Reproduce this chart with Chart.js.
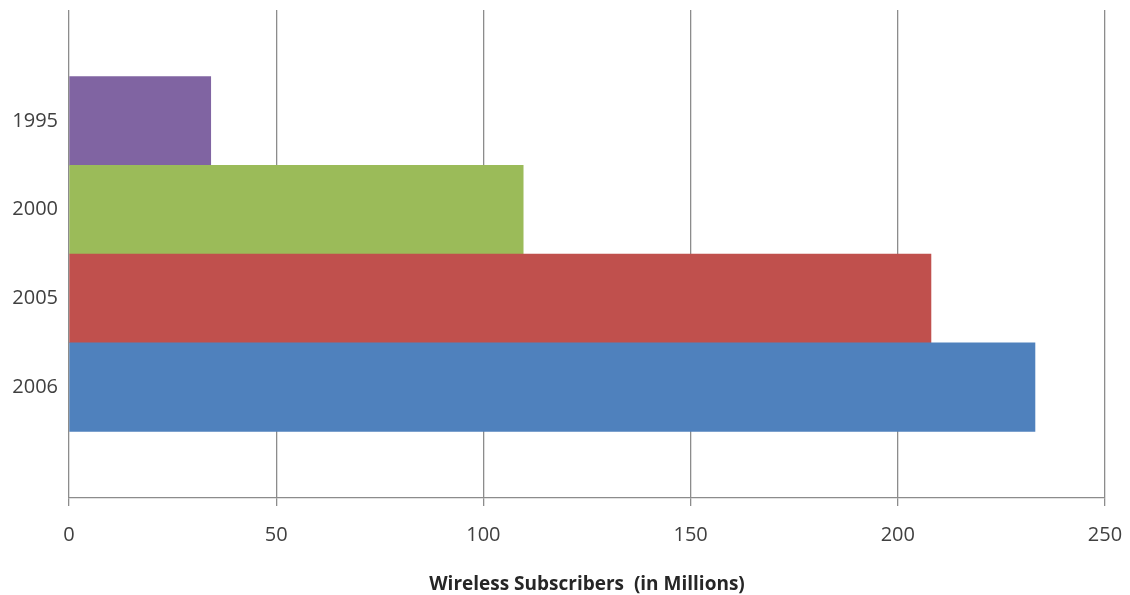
<!DOCTYPE html>
<html>
<head>
<meta charset="utf-8">
<script src="https://cdn.jsdelivr.net/npm/chart.js@4"></script>
<style>
  html, body { margin: 0; padding: 0; background: #fff; }
  #wrap { width: 1130px; height: 595px; }
</style>
</head>
<body>
<div id="wrap"><canvas id="barChart" width="1130" height="595"></canvas></div>
<script>
// Data
const years = ['1995', '2000', '2005', '2006'];
const subscribers = [34.2, 109.6, 208.0, 233.1]; // millions
const barColors = ['#8064A2', '#9BBB59', '#C0504D', '#4F81BD'];
const xTickStep = 50;
const xMax = 250;

const gridColor = '#8c8c8c';
const textColor = '#404040';

// each year sits at position 1..4 on a linear index axis
const points = subscribers.map((v, i) => ({ x: v, y: i + 1 }));

const ctx = document.getElementById('barChart').getContext('2d');

new Chart(ctx, {
  type: 'bar',
  data: {
    datasets: [{
      data: points,
      backgroundColor: barColors,
      borderWidth: 0,
      barPercentage: 1,
      categoryPercentage: 1
    }]
  },
  options: {
    indexAxis: 'y',
    responsive: false,
    animation: false,
    layout: { padding: { top: 10, right: 25, left: 0, bottom: 0 } },
    plugins: {
      legend: { display: false },
      tooltip: { enabled: false }
    },
    scales: {
      x: {
        type: 'linear',
        min: 0,
        max: xMax,
        ticks: {
          stepSize: xTickStep,
          color: textColor,
          padding: 17,
          font: { family: 'Open Sans', size: 20 }
        },
        grid: { color: gridColor, lineWidth: 1.3, tickLength: 8, drawTicks: true },
        border: { display: true, color: gridColor, width: 1.3 },
        title: {
          display: true,
          text: 'Wireless Subscribers  (in Millions)',
          color: '#262626',
          padding: { top: 0, bottom: 0 },
          font: { family: 'Open Sans', size: 19, weight: 'bold', lineHeight: 1.1 }
        },
        afterFit: (scale) => {
          scale.height = 97;
          scale.paddingLeft = 0;
          scale.paddingRight = 0;
        }
      },
      y: {
        type: 'linear',
        reverse: true,
        offset: false,
        min: -0.25,
        max: 5.25,
        afterBuildTicks: (scale) => {
          scale.ticks = years.map((y, i) => ({ value: i + 1 }));
        },
        ticks: {
          color: textColor,
          padding: 11,
          font: { family: 'Open Sans', size: 20 },
          callback: (value) => years[value - 1]
        },
        grid: { display: false, drawTicks: false, offset: false },
        border: { display: false },
        afterFit: (scale) => {
          scale.width = 69;
          scale.paddingTop = 0;
          scale.paddingBottom = 0;
        }
      }
    }
  }
});
</script>
</body>
</html>
